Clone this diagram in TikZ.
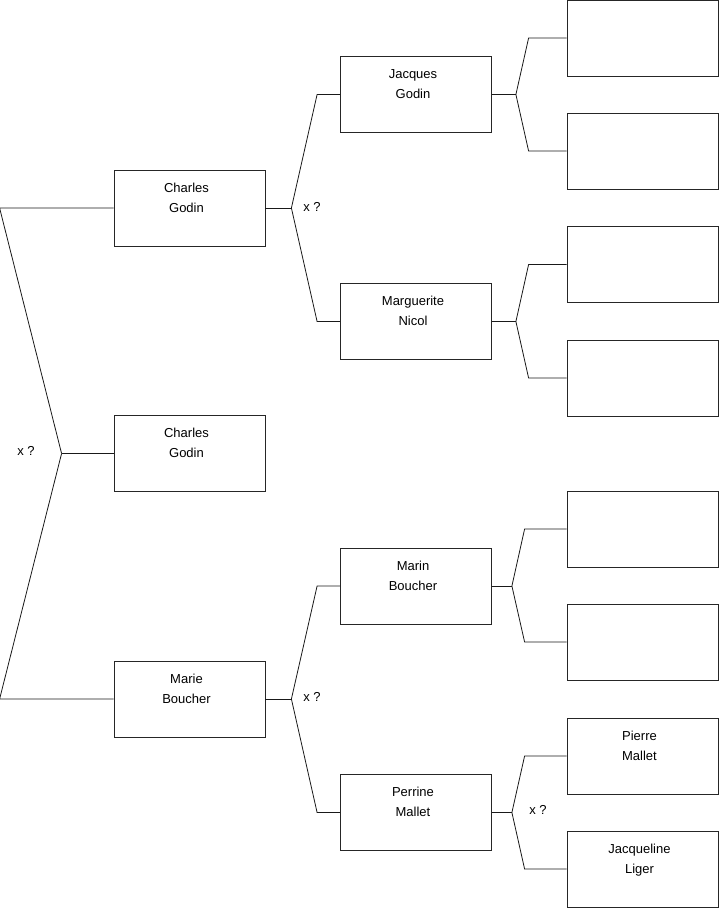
\documentclass[tikz,border=0pt]{standalone}
\usepackage{fontspec}
\setmainfont{Liberation Sans}
\newcommand{\pname}[2]{\hspace*{-6pt}\parbox[c][50pt][t]{140pt}{\centering #1\\#2}}
\tikzset{
	person/.style = {draw = black!85, line width = 0.8pt, minimum width = 151pt, minimum height = 76pt, inner sep = 0pt},
	link/.style = {draw = black!90, line width = 0.8pt},
	query/.style = {inner sep = 0pt}
}
\begin{document}
\begin{tikzpicture}[x = 1pt, y = -1pt, font = \fontsize{13}{20}\selectfont]
	\useasboundingbox (0,0) rectangle (719,908);
	% generation 1 and 2
	\node [person] (charles1) at (189.5,453.5) {\pname{Charles}{Godin}};
	\node [person] (charles2) at (189.5,208) {\pname{Charles}{Godin}};
	\node [person] (marie) at (189.5,699) {\pname{Marie}{Boucher}};
	% generation 3
	\node [person] (jacques) at (416,94.5) {\pname{Jacques}{Godin}};
	\node [person] (marguerite) at (416,321.5) {\pname{Marguerite}{Nicol}};
	\node [person] (marin) at (416,586) {\pname{Marin}{Boucher}};
	\node [person] (perrine) at (416,812.5) {\pname{Perrine}{Mallet}};
	% generation 4
	\node [person] (jacquesF) at (642.5,38) {};
	\node [person] (jacquesM) at (642.5,151) {};
	\node [person] (margueriteF) at (642.5,264.5) {};
	\node [person] (margueriteM) at (642.5,378) {};
	\node [person] (marinF) at (642.5,529) {};
	\node [person] (marinM) at (642.5,642) {};
	\node [person] (pierre) at (642.5,756) {\pname{Pierre}{Mallet}};
	\node [person] (jacqueline) at (642.5,869) {\pname{Jacqueline}{Liger}};
	% forks
	\draw [link] (charles1.west) -- ++(-52,0) coordinate (fork1);
	\draw [link] (charles2.west) -- ++(-114,0) -- (fork1);
	\draw [link] (marie.west) -- ++(-114,0) -- (fork1);
	\draw [link] (charles2.east) -- ++(26,0) coordinate (fork2);
	\draw [link] (jacques.west) -- ++(-23,0) -- (fork2);
	\draw [link] (marguerite.west) -- ++(-23,0) -- (fork2);
	\draw [link] (marie.east) -- ++(26,0) coordinate (fork3);
	\draw [link] (marin.west) -- ++(-23,0) -- (fork3);
	\draw [link] (perrine.west) -- ++(-23,0) -- (fork3);
	\draw [link] (jacques.east) -- ++(24,0) coordinate (fork4);
	\draw [link] (jacquesF.west) -- ++(-38,0) -- (fork4);
	\draw [link] (jacquesM.west) -- ++(-38,0) -- (fork4);
	\draw [link] (marguerite.east) -- ++(24,0) coordinate (fork5);
	\draw [link] (margueriteF.west) -- ++(-38,0) -- (fork5);
	\draw [link] (margueriteM.west) -- ++(-38,0) -- (fork5);
	\draw [link] (marin.east) -- ++(20,0) coordinate (fork6);
	\draw [link] (marinF.west) -- ++(-42,0) -- (fork6);
	\draw [link] (marinM.west) -- ++(-42,0) -- (fork6);
	\draw [link] (perrine.east) -- ++(20,0) coordinate (fork7);
	\draw [link] (pierre.west) -- ++(-42,0) -- (fork7);
	\draw [link] (jacqueline.west) -- ++(-42,0) -- (fork7);
	% unknown marriages
	\node [query] (query1) at (26,451) {x ?};
	\node [query] (query2) at (312,207) {x ?};
	\node [query] (query3) at (312,697) {x ?};
	\node [query] (query4) at (538,810) {x ?};
\end{tikzpicture}
\end{document}
